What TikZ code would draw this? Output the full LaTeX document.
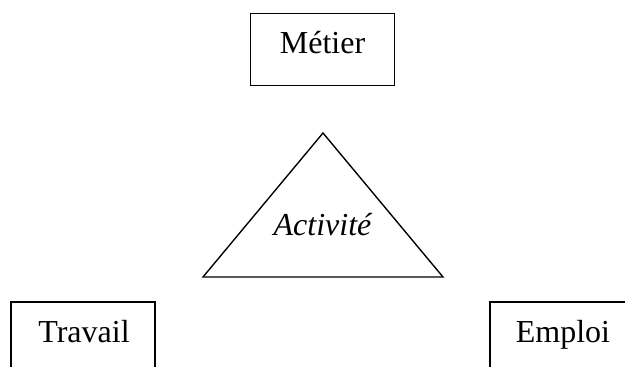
\documentclass[tikz,border=0pt]{standalone}
\usepackage{fontspec}
\setmainfont{Liberation Serif}
\begin{document}
\begin{tikzpicture}[x=1pt,y=-1pt,
  box/.style={draw, line width=1.6pt, minimum width=144pt, minimum height=72pt, inner sep=0pt},
  lbl/.style={font=\fontsize{32}{38}\selectfont, inner sep=0pt, anchor=base},
  tri/.style={draw, line width=1.4pt, line join=miter}]
\useasboundingbox (0,0) rectangle (625,367);
\clip (0,0) rectangle (625,367);
% Métier
\node[box] (metierbox) at (322.5,49.5) {};
\node[lbl] (metier) at (322.5,53) {Métier};
% triangle
\coordinate (apex) at (323,133);
\coordinate (bl) at (203,277);
\coordinate (br) at (443,277);
\draw[tri] (apex) -- (bl) -- (br) -- cycle;
\node[lbl] (activite) at (322.5,235) {\itshape Activité};
% Travail
\node[box] (travailbox) at (83,338) {};
\node[lbl] (travail) at (84,342) {Travail};
% Emploi
\node[box] (emploibox) at (562,338) {};
\node[lbl] (emploi) at (563,342) {Emploi};
\end{tikzpicture}
\end{document}
